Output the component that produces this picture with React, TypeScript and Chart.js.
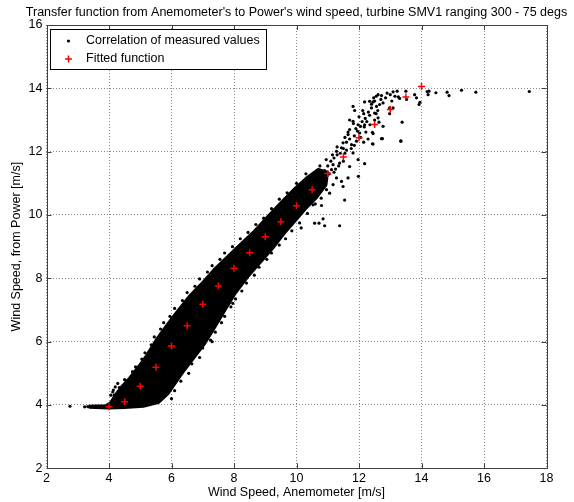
import React, { useEffect, useRef } from "react";
import { Chart, registerables } from "chart.js";

Chart.register(...registerables);

const FONT = '"Liberation Sans", Arial, Helvetica, sans-serif';
const FONT_SIZE = 12.5;

const titleText =
  "Transfer function from Anemometer's to Power's wind speed, turbine SMV1 ranging 300 - 75 degs";
const xLabel = "Wind Speed, Anemometer [m/s]";
const yLabel = "Wind Speed, from Power [m/s]";
const legendLabels = ["Correlation of measured values", "Fitted function"];

const xTicks = [2, 4, 6, 8, 10, 12, 14, 16, 18];
const yTicks = [2, 4, 6, 8, 10, 12, 14, 16];

// Fitted function (red +)
const fittedX = [4, 4.5, 5, 5.5, 6, 6.5, 7, 7.5, 8, 8.5, 9, 9.5, 10, 10.5, 11, 11.5, 12, 12.5, 13, 13.5, 14];
const fittedY = [3.94, 4.1, 4.59, 5.19, 5.86, 6.5, 7.18, 7.76, 8.32, 8.81, 9.31, 9.79, 10.29, 10.8, 11.31, 11.83, 12.44, 12.86, 13.33, 13.73, 14.06];

// Outline of the dense core of measured values (upper-left edge going up)
const coreUpperEdge: [number, number][] = [
  [3.35, 3.97], [3.9, 3.98], [4.05, 4.08], [4.2, 4.32], [4.4, 4.58], [4.65, 4.85],
  [4.97, 5.25], [5.2, 5.57], [5.5, 6.05], [5.83, 6.5], [6.15, 6.92], [6.55, 7.42],
  [7.0, 7.88], [7.35, 8.27], [7.75, 8.65], [8.2, 9.08], [8.65, 9.5], [9.1, 9.98],
  [9.5, 10.4], [9.95, 10.85], [10.35, 11.2], [10.7, 11.45],
];
// (lower-right edge going down)
const coreLowerEdge: [number, number][] = [
  [11.0, 11.35], [10.95, 10.95], [10.65, 10.55], [10.3, 10.2], [9.95, 9.8], [9.6, 9.4],
  [9.25, 8.95], [8.85, 8.5], [8.45, 8.05], [8.05, 7.53], [7.72, 7.0], [7.4, 6.47],
  [7.08, 5.95], [6.75, 5.52], [6.42, 5.1], [6.12, 4.68], [5.9, 4.36], [5.6, 4.08],
  [5.1, 3.95], [4.5, 3.91], [4.0, 3.9], [3.35, 3.92],
];

// Individual measured values outside the dense core
const tailPoints: [number, number][] = [
  [2.75, 3.96], [3.22, 3.94], [3.32, 3.95],
];
const leftEdgePoints: [number, number][] = [
  [4.06, 4.31], [4.17, 4.31], [4.14, 4.47], [4.12, 4.41], [4.2, 4.57], [4.33, 4.55],
  [4.28, 4.68], [4.5, 4.8], [4.75, 5.05], [4.85, 5.2], [5.03, 5.31], [5.05, 5.45],
  [5.15, 5.65], [5.35, 5.9], [5.45, 6.15], [5.65, 6.4], [5.67, 6.26], [5.75, 6.6],
  [5.95, 6.8], [6.1, 7.05], [6.35, 7.3], [6.5, 7.55], [6.75, 7.75], [6.9, 7.98],
  [7.15, 8.2], [7.3, 8.4], [7.55, 8.6], [7.7, 8.8], [7.95, 9.0], [8.2, 9.25],
  [8.45, 9.45], [8.7, 9.7], [8.95, 9.9], [9.2, 10.2], [9.45, 10.5], [9.7, 10.7],
  [10.0, 11.0], [10.3, 11.3],
];
const rightEdgePoints: [number, number][] = [
  [6.0, 4.2], [6.1, 4.45], [6.3, 4.75], [6.55, 5.0], [6.65, 5.3], [6.9, 5.5],
  [7.0, 5.8], [7.25, 6.05], [7.3, 6.0], [7.4, 6.3], [7.6, 6.6], [7.7, 6.8],
  [7.9, 7.1], [7.96, 7.21], [8.05, 7.35], [8.25, 7.6], [8.4, 7.85], [8.65, 8.1],
  [8.8, 8.35], [9.05, 8.6], [9.2, 8.8], [9.45, 9.05], [9.65, 9.25], [9.85, 9.5],
  [10.1, 9.75], [10.15, 9.59], [10.35, 10.05], [10.6, 10.35], [10.21, 10.16],
  [10.53, 10.32], [10.58, 9.74], [10.72, 9.74], [10.85, 9.88], [10.9, 9.66],
  [11.38, 9.66], [11.54, 10.47], [10.8, 10.3],
];
const upperStripPoints: [number, number][] = [
  [11.81, 12.96], [11.97, 12.85], [12.18, 12.85], [12.77, 12.8], [13.38, 12.93],
  [13.34, 12.33], [12.72, 12.41], [12.43, 12.25], [12.29, 12.4], [11.7, 12.7],
  [11.65, 12.54], [12.02, 12.59], [11.92, 12.33], [11.76, 12.22], [11.49, 12.28],
  [11.44, 12.12], [11.28, 12.01], [11.81, 11.96], [11.97, 11.75], [12.18, 11.62],
  [11.7, 11.53], [11.38, 11.64], [11.17, 11.59], [11.12, 11.43], [10.96, 11.22],
  [11.28, 11.17], [11.44, 11.06], [11.65, 11.17], [11.49, 10.9], [11.17, 10.96],
  [10.96, 10.8], [10.74, 10.74], [10.58, 10.59], [10.79, 10.53], [11.06, 10.69],
  [11.98, 11.22], [12.45, 12.24], [12.75, 12.41], [12.45, 12.57], [11.65, 12.62],
  [12.22, 12.62], [12.17, 12.78], [11.9, 12.73], [11.82, 12.89], [11.7, 13.0],
  [12.55, 13.2], [12.34, 13.15], [12.12, 13.3], [12.45, 13.57], [12.18, 13.57],
  [11.86, 13.3], [11.81, 13.43], [12.43, 12.61],
  [10.9, 11.4], [11.0, 11.55], [11.1, 11.7], [11.2, 11.8], [11.3, 11.9], [11.05, 11.3],
  [11.25, 11.45], [11.35, 11.55], [11.5, 11.7], [11.55, 11.95], [11.6, 12.05], [11.4, 11.95],
  [11.5, 12.1], [11.6, 12.3], [11.7, 12.4], [11.85, 12.5], [11.95, 12.65], [12.05, 12.8],
  [12.1, 12.95], [12.2, 13.05], [12.3, 13.25], [12.25, 12.95], [12.35, 12.85], [12.5, 13.0],
  [12.6, 13.3], [12.4, 13.5], [12.5, 13.6], [12.55, 13.75], [12.7, 13.65], [12.85, 13.7],
  [12.9, 13.85], [13.0, 13.8], [13.15, 13.75], [13.05, 13.6], [10.7, 11.2], [10.85, 11.1],
  [11.2, 11.35], [11.75, 12.1], [11.85, 12.2], [12.05, 12.45], [12.15, 12.3], [11.3, 12.15],
  [11.15, 11.9], [10.6, 11.35], [10.45, 11.2], [10.75, 11.55], [10.95, 11.75], [11.55, 12.45],
  [12.0, 13.1], [12.15, 13.2],
];
const plateauPoints: [number, number][] = [
  [12.47, 13.7], [12.61, 13.8], [12.72, 13.77], [12.77, 13.54], [12.66, 13.49],
  [12.56, 13.43], [12.4, 13.38], [12.34, 13.59], [13.09, 13.89], [13.22, 13.91],
  [13.26, 13.73], [13.3, 13.68], [13.5, 13.91], [13.52, 13.65], [13.78, 13.8],
  [13.84, 13.7], [13.95, 13.56], [13.92, 13.49], [14.18, 13.9], [14.24, 13.91],
  [14.21, 13.8], [14.46, 13.86], [14.82, 13.88], [14.88, 13.77], [15.28, 13.94],
  [15.74, 13.88], [17.45, 13.9], [12.5, 13.22], [12.61, 13.07], [12.64, 12.93],
  [12.98, 13.38], [13.09, 13.38], [12.98, 13.2], [13.34, 12.34],
];

const measuredPoints = [
  ...tailPoints,
  ...leftEdgePoints,
  ...rightEdgePoints,
  ...upperStripPoints,
  ...plateauPoints,
];

const PLOT = { left: 46.5, right: 546.5, top: 25, bottom: 468.3 };
const W = 574;
const H = 502;

function drawPlus(ctx: CanvasRenderingContext2D, x: number, y: number, r: number) {
  ctx.beginPath();
  ctx.moveTo(x - r, y);
  ctx.lineTo(x + r, y);
  ctx.moveTo(x, y - r);
  ctx.lineTo(x, y + r);
  ctx.stroke();
}

export default function App() {
  const ref = useRef<HTMLCanvasElement>(null);

  useEffect(() => {
    if (!ref.current) return;
    const core = [...coreUpperEdge, ...coreLowerEdge].map(([x, y]) => ({ x, y }));
    const measured = measuredPoints.map(([x, y]) => ({ x, y }));
    const fitted = fittedX.map((x, i) => ({ x, y: fittedY[i] }));

    const frame = {
      id: "matlabFrame",
      afterDatasetsDraw(chart: any) {
        const { ctx, chartArea: a, scales } = chart;
        ctx.save();
        ctx.strokeStyle = "#404040";
        ctx.lineWidth = 1;
        ctx.beginPath();
        xTicks.forEach((v) => {
          const px = Math.round(scales.x.getPixelForValue(v)) + 0.5;
          ctx.moveTo(px, a.bottom);
          ctx.lineTo(px, a.bottom - 5);
          ctx.moveTo(px, a.top);
          ctx.lineTo(px, a.top + 5);
        });
        yTicks.forEach((v) => {
          const py = Math.round(scales.y.getPixelForValue(v)) + 0.5;
          ctx.moveTo(a.left, py);
          ctx.lineTo(a.left + 5, py);
          ctx.moveTo(a.right, py);
          ctx.lineTo(a.right - 5, py);
        });
        ctx.stroke();
        ctx.strokeRect(
          Math.round(a.left) + 0.5,
          Math.round(a.top) + 0.5,
          Math.round(a.right) - Math.round(a.left),
          Math.round(a.bottom) - Math.round(a.top)
        );

        // legend box
        const lx = 50.5, ly = 29.5, lw = 216, lh = 40;
        ctx.fillStyle = "#ffffff";
        ctx.fillRect(lx, ly, lw, lh);
        ctx.strokeStyle = "#000000";
        ctx.strokeRect(lx, ly, lw, lh);
        ctx.fillStyle = "#000000";
        ctx.beginPath();
        ctx.arc(68.5, 41, 1.6, 0, Math.PI * 2);
        ctx.fill();
        ctx.strokeStyle = "#ff0000";
        ctx.lineWidth = 1.5;
        drawPlus(ctx, 68.5, 59, 3.5);
        ctx.fillStyle = "#000000";
        ctx.font = `${FONT_SIZE}px ${FONT}`;
        ctx.textAlign = "left";
        ctx.textBaseline = "middle";
        ctx.fillText(legendLabels[0], 86, 41);
        ctx.fillText(legendLabels[1], 86, 59);

        ctx.textAlign = "center";
        ctx.textBaseline = "alphabetic";
        ctx.fillText(titleText, (a.left + a.right) / 2, 15.5);
        ctx.fillText(xLabel, (a.left + a.right) / 2, 496);
        ctx.save();
        ctx.translate(19.5, (a.top + a.bottom) / 2);
        ctx.rotate(-Math.PI / 2);
        ctx.fillText(yLabel, 0, 0);
        ctx.restore();
        ctx.restore();
      },
    };

    const bg = {
      id: "whiteBg",
      beforeDraw(chart: any) {
        const { ctx } = chart;
        ctx.save();
        ctx.fillStyle = "#ffffff";
        ctx.fillRect(0, 0, chart.width, chart.height);
        ctx.restore();
      },
    };

    const tickFont = { family: FONT, size: FONT_SIZE };

    const chart = new Chart(ref.current, {
      type: "scatter",
      data: {
        datasets: [
          {
            label: legendLabels[1],
            data: fitted,
            pointStyle: "cross",
            pointRadius: 3.5,
            pointBorderWidth: 1.5,
            pointBorderColor: "#ff0000",
            pointBackgroundColor: "#ff0000",
            order: 0,
          },
          {
            label: legendLabels[0],
            data: measured,
            pointStyle: "circle",
            pointRadius: 1.6,
            pointBorderWidth: 0,
            pointBackgroundColor: "#000000",
            pointBorderColor: "#000000",
            order: 1,
          },
          {
            type: "line",
            label: "core",
            data: core,
            showLine: true,
            fill: "shape",
            backgroundColor: "#000000",
            borderColor: "#000000",
            borderWidth: 2.5,
            borderJoinStyle: "round",
            pointRadius: 0,
            tension: 0,
            order: 2,
          } as any,
        ],
      },
      options: {
        animation: false,
        responsive: false,
        events: [],
        layout: { padding: { left: 0, top: PLOT.top, right: W - PLOT.right, bottom: 0 } },
        plugins: {
          legend: { display: false },
          title: { display: false },
          tooltip: { enabled: false },
        },
        scales: {
          x: {
            type: "linear",
            min: 2,
            max: 18,
            afterFit: (s: any) => {
              s.height = H - PLOT.bottom;
            },
            afterBuildTicks: (s: any) => {
              s.ticks = xTicks.map((v) => ({ value: v }));
            },
            ticks: {
              autoSkip: false,
              maxRotation: 0,
              color: "#000000",
              font: tickFont,
              padding: 3,
            },
            grid: {
              color: "#8a8a8a",
              lineWidth: 1,
              drawTicks: false,
            },
            border: { display: false, dash: [1, 2] },
          },
          y: {
            type: "linear",
            min: 2,
            max: 16,
            afterFit: (s: any) => {
              s.width = PLOT.left;
            },
            afterBuildTicks: (s: any) => {
              s.ticks = yTicks.map((v) => ({ value: v }));
            },
            ticks: {
              autoSkip: false,
              color: "#000000",
              font: tickFont,
              padding: 4,
            },
            grid: {
              color: "#8a8a8a",
              lineWidth: 1,
              drawTicks: false,
            },
            border: { display: false, dash: [1, 2] },
          },
        },
      },
      plugins: [bg, frame],
    } as any);

    return () => chart.destroy();
  }, []);

  return (
    <div style={{ position: "fixed", left: 0, top: 0, width: W, height: H, background: "#fff" }}>
      <canvas ref={ref} width={W} height={H} style={{ display: "block", width: W, height: H }} />
    </div>
  );
}
